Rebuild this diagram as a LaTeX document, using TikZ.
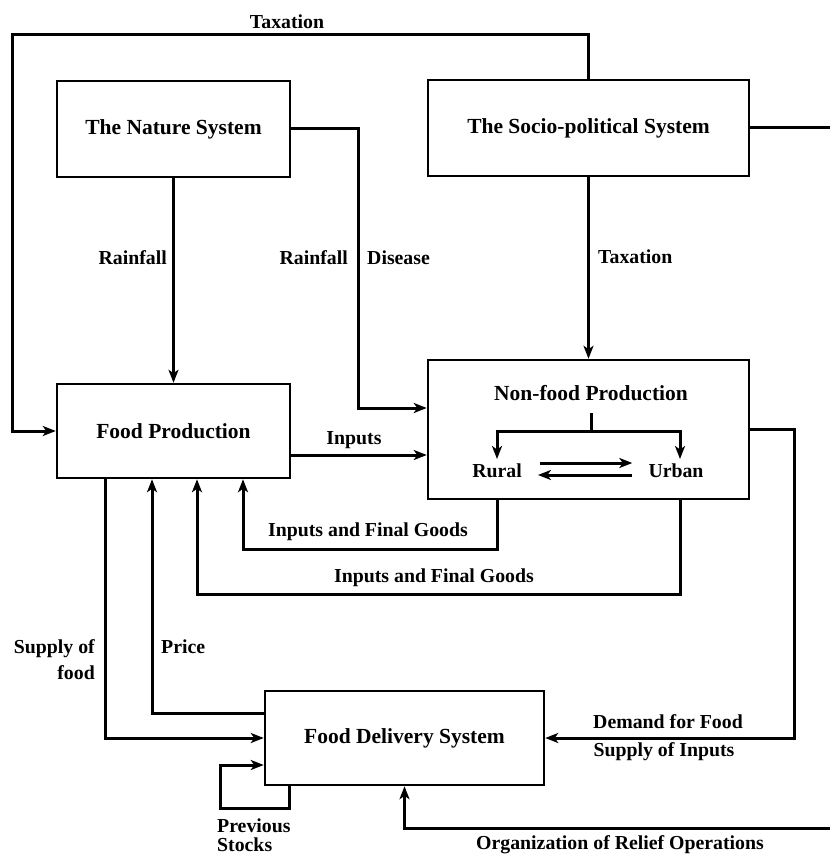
\documentclass[tikz,border=0pt]{standalone}
\usepackage{fontspec}
\setmainfont{Liberation Serif}
\usetikzlibrary{arrows.meta,calc}
\begin{document}
\begin{tikzpicture}[x=1pt,y=-1pt,
  every node/.style={font=\fontsize{19.8}{23}\selectfont\bfseries},
  sysbox/.style={draw,line width=2.5pt,rectangle,inner sep=0pt,font=\fontsize{21.5}{25}\selectfont\bfseries},
  lbl/.style={inner sep=0pt},
  conn/.style={line width=3pt},
  arr/.style={conn,-{Stealth[length=13pt,width=10pt,inset=3.5pt]}}]
\useasboundingbox (0,0) rectangle (830,856);
% boxes
\node[sysbox,minimum width=233pt,minimum height=96pt] (nature) at (173.5,129) {The Nature System};
\node[sysbox,minimum width=321pt,minimum height=96pt] (socio) at (588.5,128) {The Socio-political System};
\node[sysbox,minimum width=233pt,minimum height=94pt] (food) at (173.5,431) {Food Production};
\node[sysbox,minimum width=321pt,minimum height=139pt] (nonfood) at (588.5,429.5) {};
\node[sysbox,minimum width=279pt,minimum height=94pt] (delivery) at (404.5,738) {Food Delivery System};
% inner texts of non-food box
\node[lbl,font=\fontsize{21.5}{25}\selectfont\bfseries] (nft) at (591,393) {Non-food Production};
\node[lbl] (rural) at (497,471) {Rural};
\node[lbl] (urban) at (676,471) {Urban};
% helper coordinates
\coordinate (tl) at (12,35);
\coordinate (se) at (830,128);
\coordinate (nd) at (358,408);
\coordinate (inp) at (0,455);
\coordinate (tjt) at (591,413);
\coordinate (tj) at (591,431);
\coordinate (ra) at (497,459);
\coordinate (ua) at (680,459);
\coordinate (l1) at (243,549);
\coordinate (u2) at (680,0);
\coordinate (l2) at (197,594);
\coordinate (sf) at (105,738);
\coordinate (pr) at (152,713);
\coordinate (rb) at (794,738);
\coordinate (ps1) at (289,808);
\coordinate (ps2) at (220,765);
\coordinate (org) at (830,828);
% connectors
\draw[arr] (socio.north) |- (tl) |- (food.west);
\draw[conn] (socio.east) -- (se);
\draw[arr] (nature.south) -- (food.north);
\draw[arr] (nature.east) -| (nd) -- (nd -| nonfood.west);
\draw[arr] (socio.south) -- (nonfood.north);
\draw[arr] (food.east |- inp) -- (nonfood.west |- inp);
\draw[conn] (tjt) -- (tj);
\draw[arr] (tj) -| (ra);
\draw[arr] (tj) -| (ua);
\draw[arr] ([xshift=18pt,yshift=8pt]rural.east) -- ([xshift=-16pt,yshift=8pt]urban.west);
\draw[arr] ([xshift=-16pt,yshift=-4pt]urban.west) -- ([xshift=16pt,yshift=-4pt]rural.east);
\draw[arr] (rural |- nonfood.south) |- (l1) -- (l1 |- food.south);
\draw[arr] (u2 |- nonfood.south) |- (l2) -- (l2 |- food.south);
\draw[arr] (sf |- food.south) -- (sf) -- (delivery.west);
\draw[arr] (pr -| delivery.west) -- (pr) -- (pr |- food.south);
\draw[arr] (nonfood.east) -| (rb) -- (delivery.east);
\draw[arr] (ps1 |- delivery.south) -- (ps1) -| (ps2) -- (ps2 -| delivery.west);
\draw[arr] (org) -| (delivery.south);
% labels
\node[lbl] (tx1) at (287,22) {Taxation};
\node[lbl,anchor=east] (rf1) at (167,258) {Rainfall};
\node[lbl,anchor=east] (rf2) at (348,258) {Rainfall};
\node[lbl,anchor=west] (dis) at (367,258) {Disease};
\node[lbl,anchor=west] (tx2) at (598,257) {Taxation};
\node[lbl] (inl) at (354,440) {Inputs};
\node[lbl] (ifg1) at (368,532) {Inputs and Final Goods};
\node[lbl] (ifg2) at (434,578) {Inputs and Final Goods};
\node[lbl,anchor=east,align=right,font=\fontsize{19.8}{26}\selectfont\bfseries] (sof) at (95,660) {Supply of\\food};
\node[lbl,anchor=west] (price) at (161,647) {Price};
\node[lbl] (dff) at (668,722) {Demand for Food};
\node[lbl] (soi) at (664,752) {Supply of Inputs};
\node[lbl,anchor=west,align=left,font=\fontsize{19.8}{19.5}\selectfont\bfseries] (ps) at (217,835) {Previous\\Stocks};
\node[lbl] (orl) at (620,845) {Organization of Relief Operations};
\end{tikzpicture}
\end{document}
